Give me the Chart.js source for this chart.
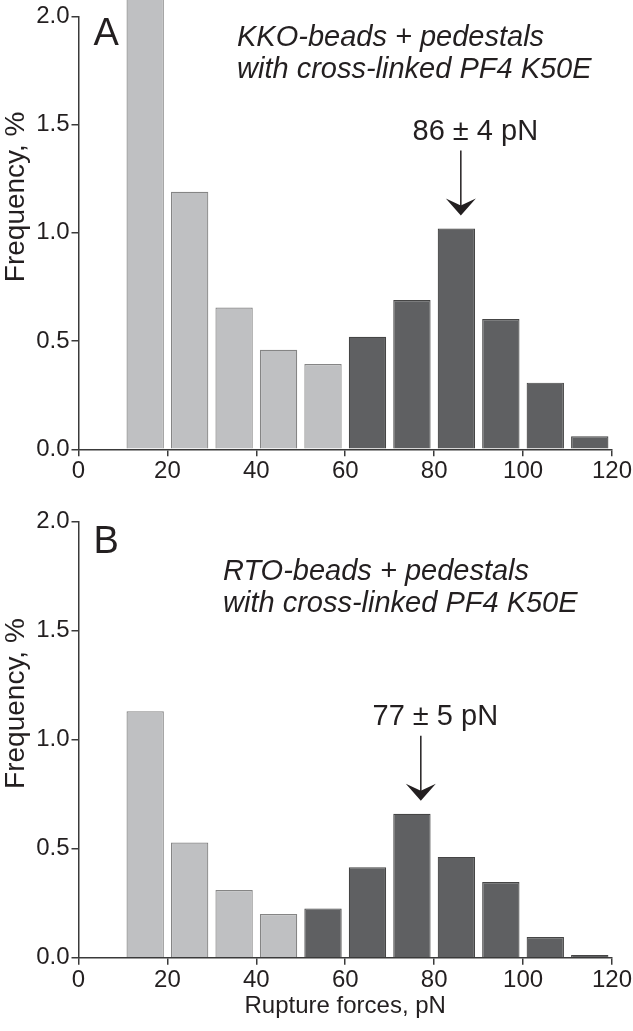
<!DOCTYPE html>
<html>
<head>
<meta charset="utf-8">
<script src="https://cdn.jsdelivr.net/npm/chart.js@4"></script>
<style>
  html, body { margin: 0; padding: 0; background: #fff; }
  canvas { display: block; }
</style>
</head>
<body>
<canvas id="chartA" width="633" height="505"></canvas>
<canvas id="chartB" width="633" height="526"></canvas>
<script>
// bin centres in pN (10 pN wide bins)
const binCenters = [15, 25, 35, 45, 55, 65, 75, 85, 95, 105, 115];

// panel A: KKO-beads, frequency %
const freqA = [2.3, 1.19, 0.655, 0.46, 0.394, 0.52, 0.69, 1.02, 0.602, 0.308, 0.06];
const peakStartA = 60;   // bins above this are the specific peak (dark)
const meanA = 86, semA = 4;

// panel B: RTO-beads, frequency %
const freqB = [1.13, 0.528, 0.31, 0.2, 0.226, 0.415, 0.66, 0.462, 0.347, 0.095, 0.012];
const peakStartB = 50;
const meanB = 77, semB = 5;

const xTicks = [0, 20, 40, 60, 80, 100, 120];
const yTicks = [0, 0.5, 1.0, 1.5, 2.0];

const ink = '#231f20';
const axisColor = '#3a3a3a';
const light = '#bfc0c2', lightEdge = '#858585';
const dark = '#5f6062', darkEdge = '#454545';
const sans = '"Liberation Sans", Arial, sans-serif';

// texts, arrow and the y title drawn on top of the bars
const notesPlugin = {
  id: 'notes',
  afterDraw(chart, args, o) {
    const ctx = chart.ctx, a = chart.chartArea;
    const xs = chart.scales.x, ys = chart.scales.y;
    const freq = chart.data.datasets[0].data;
    ctx.save();
    ctx.fillStyle = ink;
    ctx.strokeStyle = ink;
    ctx.textAlign = 'left';
    ctx.textBaseline = 'alphabetic';

    // panel letter
    ctx.font = '38px ' + sans;
    ctx.fillText(o.letter, a.left + o.letterDx, a.top + o.letterDy);

    // condition text
    ctx.font = 'italic 29px ' + sans;
    o.lines.forEach((t, i) => ctx.fillText(t, o.titleX, a.top + o.titleDy + i * 32));

    // arrow to the peak bin
    let idx = 0;
    freq.forEach((p, i) => { if (Math.abs(p.x - o.mean) < Math.abs(freq[idx].x - o.mean)) idx = i; });
    const px = xs.getPixelForValue(o.mean);
    const tip = ys.getPixelForValue(freq[idx].y) - 13;
    const top = tip - 65;
    ctx.lineWidth = 1.5;
    ctx.beginPath();
    ctx.moveTo(px, top);
    ctx.lineTo(px, tip - 8);
    ctx.stroke();
    ctx.beginPath();
    ctx.moveTo(px, tip);
    ctx.lineTo(px - 15, tip - 17);
    ctx.lineTo(px, tip - 10);
    ctx.lineTo(px + 15, tip - 17);
    ctx.closePath();
    ctx.fill();

    // mean +- sem label, with the sign over the arrow
    ctx.font = '29px ' + sans;
    const head = o.mean + ' ';
    const x0 = px - ctx.measureText(head).width - ctx.measureText('\u00b1').width / 2;
    ctx.fillText(head + '\u00b1 ' + o.sem + ' pN', x0, top - 11);

    // y axis title
    ctx.translate(16, (a.top + a.bottom) / 2 - 36);
    ctx.rotate(-Math.PI / 2);
    ctx.textAlign = 'center';
    ctx.textBaseline = 'middle';
    ctx.font = '28px ' + sans;
    ctx.fillText('Frequency, %', 0, 0);
    ctx.restore();
  }
};

function makeChart(id, freq, peakStart, mean, sem, cfg) {
  const tickFont = { family: sans, size: 24 };
  new Chart(document.getElementById(id), {
    type: 'bar',
    data: {
      datasets: [{
        data: binCenters.map((c, i) => ({ x: c, y: freq[i] })),
        backgroundColor: binCenters.map(c => c > peakStart ? dark : light),
        borderColor: binCenters.map(c => c > peakStart ? darkEdge : lightEdge),
        borderWidth: 1.2,
        barPercentage: 0.84,
        categoryPercentage: 1,
        clip: false
      }]
    },
    options: {
      responsive: false,
      animation: false,
      layout: { padding: { left: 0, right: 17, top: cfg.top, bottom: 0 } },
      plugins: {
        legend: { display: false },
        tooltip: { enabled: false },
        notes: {
          letter: cfg.letter, letterDx: 15, letterDy: cfg.letterDy,
          lines: cfg.lines, titleX: cfg.titleX, titleDy: cfg.titleDy,
          mean: mean, sem: sem
        }
      },
      scales: {
        x: {
          type: 'linear',
          min: xTicks[0], max: xTicks[xTicks.length - 1],
          offset: false,
          afterBuildTicks: s => { s.ticks = xTicks.map(v => ({ value: v })); },
          ticks: { font: tickFont, color: ink, padding: 1, maxRotation: 0 },
          grid: { offset: false, drawOnChartArea: false, tickLength: 7, tickColor: axisColor, lineWidth: 1.5 },
          border: { color: axisColor, width: 1.5 },
          title: {
            display: !!cfg.xTitle, text: cfg.xTitle || '', color: ink,
            font: { family: sans, size: 24 }, padding: { top: 0, bottom: 10 }
          },
          afterFit: s => { s.height = cfg.xh; }
        },
        y: {
          min: yTicks[0], max: yTicks[yTicks.length - 1],
          afterBuildTicks: s => { s.ticks = yTicks.map(v => ({ value: v })); },
          ticks: { font: tickFont, color: ink, padding: 2, callback: v => v.toFixed(1) },
          grid: { drawOnChartArea: false, tickLength: 7, tickColor: axisColor, lineWidth: 1.5 },
          border: { color: axisColor, width: 1.5 },
          afterFit: s => { s.width = 78.5; }
        }
      }
    },
    plugins: [notesPlugin]
  });
}

makeChart('chartA', freqA, peakStartA, meanA, semA, {
  top: 12.3, xh: 55.7, letter: 'A', letterDy: 28.4,
  lines: ['KKO-beads + pedestals', 'with cross-linked PF4 K50E'], titleX: 237, titleDy: 29.7
});
makeChart('chartB', freqB, peakStartB, meanB, semB, {
  top: 15.9, xh: 73.3, letter: 'B', letterDy: 32,
  lines: ['RTO-beads + pedestals', 'with cross-linked PF4 K50E'], titleX: 223, titleDy: 59,
  xTitle: 'Rupture forces, pN'
});
</script>
</body>
</html>
